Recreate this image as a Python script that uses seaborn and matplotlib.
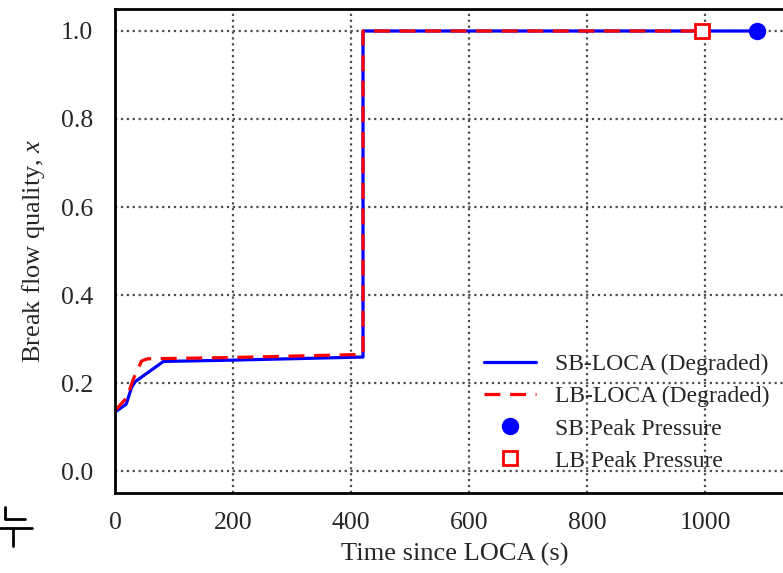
import matplotlib
matplotlib.use("Agg")
import matplotlib.pyplot as plt
import seaborn as sns
import pandas as pd
from matplotlib.lines import Line2D

# Break flow quality traces
sb_time = [0, 19, 28, 34, 82, 200, 420, 420, 1088]
sb_quality = [0.134, 0.152, 0.19, 0.203, 0.249, 0.252, 0.259, 1.0, 1.0]

lb_time = [0, 20, 31, 45, 55, 200, 420, 420, 994]
lb_quality = [0.137, 0.167, 0.209, 0.25, 0.255, 0.258, 0.265, 1.0, 1.0]

# Peak pressure points
sb_peak_time = [1088]
sb_peak_quality = [1.0]
lb_peak_time = [994]
lb_peak_quality = [1.0]

x_ticks = [0, 200, 400, 600, 800, 1000]
y_ticks = [0.0, 0.2, 0.4, 0.6, 0.8, 1.0]

sb = pd.DataFrame({"t": sb_time, "x": sb_quality})
lb = pd.DataFrame({"t": lb_time, "x": lb_quality})

sns.set_style("white")
plt.rcParams["font.family"] = ["Liberation Serif", "DejaVu Serif"]
plt.rcParams["mathtext.fontset"] = "custom"
plt.rcParams["mathtext.it"] = "Liberation Serif:italic"
plt.rcParams["mathtext.rm"] = "Liberation Serif"

fig = plt.figure(figsize=(7.83, 5.73), dpi=100)
ax = fig.add_axes([0.1469, 0.1396, 0.8672, 0.8447])

sns.lineplot(data=sb, x="t", y="x", sort=False, estimator=None, ax=ax,
             color="#0000ff", lw=2.3, label="SB-LOCA (Degraded)")
sns.lineplot(data=lb, x="t", y="x", sort=False, estimator=None, ax=ax,
             color="#ff0000", lw=2.3, label="LB-LOCA (Degraded)")
ax.lines[1].set_dashes([5, 3])

ax.plot(sb_peak_time, sb_peak_quality, "o", color="#0000ff", ms=11.5,
        label="SB Peak Pressure", zorder=5)
ax.plot(lb_peak_time, lb_peak_quality, "s", mfc="white", mec="#ff0000",
        mew=2, ms=10.5, label="LB Peak Pressure", zorder=5)

ax.set_xlim(0, 1150)
ax.set_ylim(-0.05, 1.05)
ax.set_xticks(x_ticks)
ax.set_yticks(y_ticks)
ax.set_yticklabels([f"{v:.1f}" for v in y_ticks])
ax.tick_params(axis="both", length=0, labelsize=18.5)
ax.tick_params(axis="x", pad=14)
ax.tick_params(axis="y", pad=16)

ax.grid(True, linestyle=":", color="0.3", lw=1.6)
for s in ax.spines.values():
    s.set_linewidth(2)
    s.set_color("black")

ax.set_xlabel("Time since LOCA (s)", fontsize=19, labelpad=6)
ax.set_ylabel("Break flow quality, $x$", fontsize=19, labelpad=10)

ax.legend(loc="lower right", bbox_to_anchor=(0.995, 0.0), frameon=False,
          fontsize=17, handlelength=2.2, labelspacing=0.45, handletextpad=0.8)

# stray marks at the bottom-left of the original page crop
fig.add_artist(Line2D([0.006, 0.006, 0.032], [0.115, 0.095, 0.095],
                      transform=fig.transFigure, color="black", lw=2))
fig.add_artist(Line2D([0.0, 0.041], [0.078, 0.078],
                      transform=fig.transFigure, color="black", lw=2))
fig.add_artist(Line2D([0.017, 0.017], [0.078, 0.047],
                      transform=fig.transFigure, color="black", lw=2))

plt.savefig("out.png", dpi=100)
